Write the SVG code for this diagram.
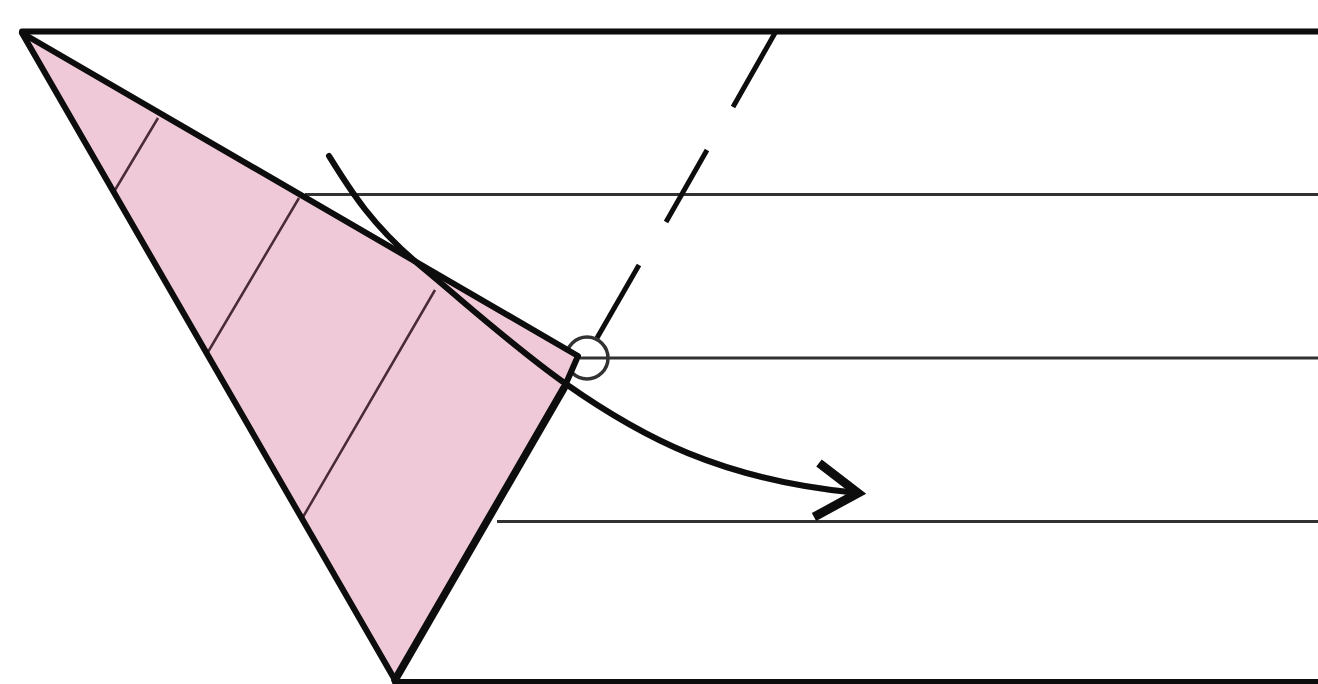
<svg xmlns="http://www.w3.org/2000/svg" width="1318" height="684" viewBox="0 0 1318 684">
<style>
.thin{fill:none;stroke:#333;stroke-width:3}
.fold{fill:none;stroke:#4a2a38;stroke-width:2.5}
.bold{fill:none;stroke:#0a0a0a;stroke-width:6;stroke-linecap:round;stroke-linejoin:round}
.mid{fill:none;stroke:#111;stroke-width:5}
</style>
<defs><filter id="soft" x="-2%" y="-2%" width="104%" height="104%"><feGaussianBlur stdDeviation="0.7"/></filter></defs>
<rect width="1318" height="684" fill="#fff"/>
<g filter="url(#soft)">
<g id="paper-lines">
<path class="thin" d="M305 194.500H1320M580 358H1320M497 521.500H1320"/>
<path class="bold" d="M22 31.500H1324M395 682H1324"/>
<path class="mid" d="M775 33L733 107M707 150L666 222M639 265L597 338"/>
<circle class="thin" cx="587" cy="358" r="21" style="stroke-width:3.500"/>
</g>
<g id="folded-flap">
<path d="M22 33L578 356L564 388L395 680Z" fill="#efc9d7"/>
<path class="fold" d="M158 118L115 190M299 198L208 352M435 290L303 517"/>
<path class="bold" d="M22 33L578 356L564 388M22 33L395 680"/>
<path class="bold" style="stroke-width:7.500" d="M564 388L395 680"/>
</g>
<g id="connectors">
<path class="bold" d="M329 156C350 190 372 226 423 268C470 307 515 348 566 384C640 436 720 480 858 493"/>
<path class="bold" style="stroke-width:9;stroke-linecap:butt;stroke-linejoin:miter" d="M819 463L858 493L814 517"/>
</g>
</g>
</svg>
